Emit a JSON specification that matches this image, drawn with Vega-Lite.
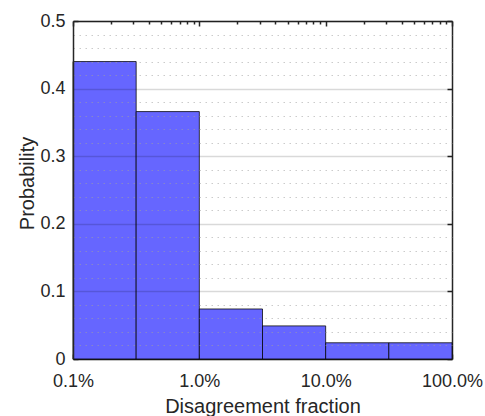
{
  "$schema": "https://vega.github.io/schema/vega-lite/v6.json",
  "width": 379,
  "height": 338,
  "autosize": "none",
  "padding": {"left": 73, "top": 21, "right": 33, "bottom": 57},
  "background": "white",
  "config": {
    "view": {"stroke": null},
    "font": "Liberation Sans",
    "axis": {
      "labelFont": "Liberation Sans",
      "titleFont": "Liberation Sans",
      "labelFontSize": 18,
      "titleFontSize": 20,
      "titleFontWeight": "normal",
      "labelColor": "#262626",
      "titleColor": "#262626",
      "domainColor": "#262626",
      "domainWidth": 1.5,
      "tickColor": "#262626",
      "tickWidth": 1.5,
      "labelFlush": false,
      "labelOverlap": false
    }
  },
  "data": {
    "values": [
      {"lo": 0.001, "hi": 0.0031623, "p": 0.44},
      {"lo": 0.0031623, "hi": 0.01, "p": 0.366},
      {"lo": 0.01, "hi": 0.031623, "p": 0.074},
      {"lo": 0.031623, "hi": 0.1, "p": 0.049},
      {"lo": 0.1, "hi": 0.31623, "p": 0.024},
      {"lo": 0.31623, "hi": 1, "p": 0.024}
    ]
  },
  "layer": [
    {
      "mark": {"type": "bar", "fill": "#6666ff", "stroke": "#000000", "strokeOpacity": 0.75, "strokeWidth": 1},
      "encoding": {
        "x": {
          "field": "lo", "type": "quantitative",
          "scale": {"type": "log", "domain": [0.001, 1]},
          "axis": {
            "orient": "bottom", "values": [0.001, 0.01, 0.1, 1], "format": ".1%",
            "ticks": false, "tickSize": 0, "labelPadding": 13, "grid": false,
            "title": "Disagreement fraction", "titleBaseline": "alphabetic", "titleY": 53
          }
        },
        "x2": {"field": "hi"},
        "y": {
          "field": "p", "type": "quantitative",
          "scale": {"domain": [0, 0.5], "nice": false, "zero": true},
          "axis": {
            "orient": "left", "values": [0, 0.1, 0.2, 0.3, 0.4, 0.5], "format": "~g",
            "ticks": false, "tickSize": 0, "labelPadding": 8, "grid": true, "gridColor": "#000000",
            "gridOpacity": 0.15, "gridWidth": 1.5, "zindex": 1,
            "title": "Probability", "titleBaseline": "alphabetic", "titleAngle": -90,
            "titleX": -40, "titleY": 162, "titleAlign": "center"
          }
        },
        "y2": {"datum": 0}
      }
    },
    {
      "mark": {"type": "bar", "opacity": 0},
      "encoding": {
        "x": {
          "field": "lo", "type": "quantitative",
          "axis": {"orient": "top", "values": [0.001, 0.01, 0.1, 1], "labels": false, "ticks": false, "grid": false, "title": null}
        },
        "x2": {"field": "hi"},
        "y": {
          "field": "p", "type": "quantitative",
          "axis": {"orient": "right", "values": [0, 0.1, 0.2, 0.3, 0.4, 0.5], "labels": false, "ticks": false, "grid": false, "title": null}
        },
        "y2": {"datum": 0}
      }
    },
    {
      "mark": {"type": "bar", "opacity": 0},
      "encoding": {
        "x": {
          "field": "lo", "type": "quantitative",
          "axis": {"orient": "bottom", "values": [0.001, 0.01, 0.1, 1], "labels": false, "domain": false, "tickSize": 5, "offset": -5, "grid": false, "title": null}
        },
        "x2": {"field": "hi"},
        "y": {
          "field": "p", "type": "quantitative",
          "axis": {"orient": "left", "values": [0, 0.1, 0.2, 0.3, 0.4, 0.5], "labels": false, "domain": false, "tickSize": 5, "offset": -5, "grid": false, "title": null}
        },
        "y2": {"datum": 0}
      }
    },
    {
      "mark": {"type": "bar", "opacity": 0},
      "encoding": {
        "x": {
          "field": "lo", "type": "quantitative",
          "axis": {"orient": "top", "values": [0.001, 0.01, 0.1, 1], "labels": false, "domain": false, "tickSize": 5, "offset": -5, "grid": false, "title": null}
        },
        "x2": {"field": "hi"},
        "y": {
          "field": "p", "type": "quantitative",
          "axis": {"orient": "right", "values": [0, 0.1, 0.2, 0.3, 0.4, 0.5], "labels": false, "domain": false, "tickSize": 5, "offset": -5, "grid": false, "title": null}
        },
        "y2": {"datum": 0}
      }
    },
    {
      "mark": {"type": "bar", "opacity": 0},
      "encoding": {
        "x": {
          "field": "lo", "type": "quantitative",
          "axis": {
            "orient": "bottom", "domain": false, "labels": false, "tickSize": 3, "offset": -3, "grid": false, "title": null,
            "values": [0.002, 0.003, 0.004, 0.005, 0.006, 0.007, 0.008, 0.009, 0.02, 0.03, 0.04, 0.05, 0.06, 0.07, 0.08, 0.09, 0.2, 0.3, 0.4, 0.5, 0.6, 0.7, 0.8, 0.9]
          }
        },
        "x2": {"field": "hi"},
        "y": {
          "field": "p", "type": "quantitative",
          "axis": {
            "orient": "left", "domain": false, "labels": false, "ticks": false, "title": null,
            "grid": true, "gridColor": "#a0a0a0", "gridOpacity": 0.55, "gridWidth": 1.2, "gridDash": [1.5, 4.5], "zindex": 1,
            "values": [0.02, 0.04, 0.06, 0.08, 0.12, 0.14, 0.16, 0.18, 0.22, 0.24, 0.26, 0.28, 0.32, 0.34, 0.36, 0.38, 0.42, 0.44, 0.46, 0.48]
          }
        },
        "y2": {"datum": 0}
      }
    },
    {
      "mark": {"type": "bar", "opacity": 0},
      "encoding": {
        "x": {
          "field": "lo", "type": "quantitative",
          "axis": {
            "orient": "top", "domain": false, "labels": false, "tickSize": 3, "offset": -3, "grid": false, "title": null,
            "values": [0.002, 0.003, 0.004, 0.005, 0.006, 0.007, 0.008, 0.009, 0.02, 0.03, 0.04, 0.05, 0.06, 0.07, 0.08, 0.09, 0.2, 0.3, 0.4, 0.5, 0.6, 0.7, 0.8, 0.9]
          }
        },
        "x2": {"field": "hi"},
        "y": {"field": "p", "type": "quantitative", "axis": null},
        "y2": {"datum": 0}
      }
    }
  ],
  "resolve": {"axis": {"x": "independent", "y": "independent"}}
}
